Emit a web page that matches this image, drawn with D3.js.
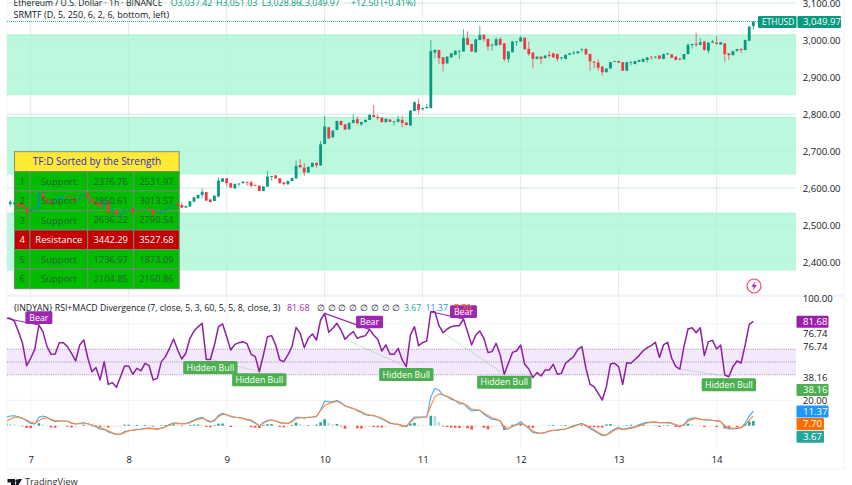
<!DOCTYPE html>
<html><head><meta charset="utf-8">
<script src="https://cdn.jsdelivr.net/npm/d3@7/dist/d3.min.js"></script>
<style>html,body{margin:0;padding:0;background:#fff;overflow:hidden}svg{display:block}text{font-family:"Open Sans",sans-serif}</style>
</head><body><svg id="c" width="852" height="485"></svg>
<script>
const opens=[2556,2556,2561,2556,2548,2534,2539,2546,2584,2572,2566,2563,2568,2569,2578,2575,2572,2568,2577,2586,2572,2561,2563,2550,2566,2536,2541,2527,2534,2539,2547,2539,2541,2541,2545,2542,2532,2530,2538,2543,2550,2557,2554,2547,2550,2563,2572,
2581,2589,2569,2565,2577,2617,2626,2613,2599,2610,2613,2616,2615,2608,2606,2592,2604,2630,2634,2626,2615,2610,2619,2626,2662,2655,2642,2657,2668,2661,2719,2764,2737,2757,2781,2772,2759,2776,2786,2772,2778,2784,2797,2792,2790,2778,2785,2779,2779,2784,2777,2769,2808,2827,2813,2816,
2816,2966,2973,2953,2937,2953,2960,2969,2969,3005,2989,2967,3000,3014,3003,2985,2985,3003,2991,2948,2967,2994,2996,3006,2976,2966,2949,2955,2951,2960,2964,2962,2952,2949,2960,2964,2964,2974,2976,2962,2942,2939,2928,2913,2923,2941,2943,2940,2917,2939,2935,2941,2941,2946,2955,2954,2958,2949,2961,2961,2955,2950,2948,2962,2986,2990,2987,2996,2971,2993,2993,2988,2991,2964,2959,2970,2976,2973,2998,3037.42];
const closes=[2563,2561,2550,2548,2533,2541,2548,2589,2572,2559,2559,2572,2578,2577,2575,2572,2565,2578,2584,2572,2559,2554,2548,2566,2533,2541,2527,2536,2542,2541,2533,2541,2539,2542,2541,2527,2536,2539,2545,2551,2556,2552,2547,2551,2564,2575,2581,
2590,2566,2562,2579,2620,2626,2613,2601,2611,2612,2617,2614,2606,2607,2592,2604,2631,2632,2626,2613,2611,2619,2627,2660,2656,2642,2657,2668,2661,2718,2766,2734,2755,2781,2770,2758,2776,2784,2775,2778,2784,2798,2792,2789,2778,2787,2779,2780,2786,2776,2770,2809,2832,2811,2816,2819,
2970,2973,2951,2935,2955,2964,2971,2971,3005,2987,2969,3002,3014,3002,2982,2987,3002,2987,2948,2969,2996,2996,3007,2975,2962,2949,2955,2949,2958,2957,2953,2949,2953,2960,2964,2966,2969,2976,2961,2942,2939,2925,2913,2923,2940,2943,2939,2917,2940,2941,2943,2946,2949,2953,2953,2955,2949,2962,2964,2952,2946,2948,2962,2987,2989,2987,2994,2973,2993,2996,2989,2994,2962,2959,2970,2975,2973,3000,3036,3049.97];
const highs=[2568,2566,2562,2563,2549,2542,2549,2592,2593,2573,2567,2575,2581,2579,2579,2576,2573,2580,2586,2587,2573,2562,2565,2568,2567,2550,2542,2538,2544,2542,2548,2542,2542,2544,2551,2543,2537,2540,2546,2552,2557,2561,2561,2552,2565,2576,2583,
2599,2590,2570,2580,2629,2627,2627,2614,2612,2613,2618,2617,2620,2609,2607,2605,2646,2633,2635,2627,2616,2620,2628,2674,2678,2667,2658,2669,2669,2727,2795,2765,2756,2782,2782,2773,2777,2800,2793,2779,2785,2799,2824,2799,2791,2788,2786,2781,2796,2796,2778,2810,2834,2842,2817,2827,
3000,2975,2974,2954,2956,2965,2972,2972,3029,3024,2990,3003,3038,3015,3004,2991,3007,3007,2992,2970,2997,2997,3011,3007,2996,2967,2956,2956,2959,2970,2965,2963,2954,2961,2965,2971,2970,2977,2977,2963,2943,2948,2929,2924,2941,2944,2944,2941,2941,2942,2944,2947,2950,2954,2956,2956,2959,2963,2965,2962,2956,2951,2963,2991,2990,3020,3005,2997,2994,3000,3011,2995,2992,2965,2971,2976,2977,3001,3038,3051.03];
const lows=[2550,2550,2545,2545,2527,2533,2538,2545,2571,2558,2556,2561,2566,2567,2573,2571,2563,2566,2575,2571,2557,2552,2546,2549,2531,2523,2523,2523,2530,2532,2532,2537,2533,2540,2540,2526,2531,2529,2537,2542,2549,2551,2546,2546,2549,2562,2571,
2572,2565,2561,2564,2575,2616,2604,2600,2598,2604,2612,2606,2602,2605,2591,2591,2603,2620,2625,2612,2606,2609,2618,2625,2655,2633,2641,2656,2655,2660,2718,2733,2736,2756,2769,2757,2758,2775,2772,2768,2777,2783,2791,2784,2777,2777,2778,2768,2778,2764,2769,2768,2807,2799,2809,2815,
2815,2951,2935,2915,2936,2952,2959,2949,2968,2986,2968,2966,2999,2996,2971,2971,2984,2986,2942,2939,2966,2984,2995,2974,2957,2923,2948,2935,2950,2952,2952,2942,2946,2948,2959,2960,2963,2967,2960,2917,2924,2917,2904,2912,2922,2940,2938,2916,2916,2931,2934,2940,2940,2939,2946,2950,2948,2948,2960,2951,2945,2944,2947,2961,2977,2982,2986,2972,2964,2992,2988,2987,2941,2946,2958,2969,2964,2972,2997,3028.86];
const rsi=[84.1,84.1,82,73.7,64.6,47.1,52.9,59.9,78.9,73.7,62,56,56.2,65.1,65.1,62,56.8,50.8,63.3,67.2,52.9,42.4,45.6,36,50.3,32.5,33.9,30.2,38.5,46.9,46.9,40.4,45,43,49,47.1,36,37.2,50.3,54.2,60.7,68,59.4,52.3,56.8,68.5,74.2,77.6,80.2,52,52,63.3,77.6,79.7,69.8,59.4,63.8,65.1,65.9,64.1,56,54.2,42.4,55.5,69.8,70.6,63.3,51.6,50.3,55.5,62,77.1,72.4,61.2,68.5,71.9,67.2,82.8,88,73.2,76.3,80.2,75,67.7,71.1,73.7,68.5,69.8,70.6,75.5,71.1,67.7,58.6,63.3,56,56,60.7,51.6,46.4,71.1,77.6,62.8,65.1,66.4,89.3,
89.3,78.4,72.9,75.8,77.6,78.4,78.4,83.6,73.7,63.3,71.1,74.2,68.5,57.5,58.1,64.6,55.5,40.4,49,57.5,58.6,63.3,48.2,44.5,37.8,41.7,39.1,43.7,43.7,48.2,40.4,41.1,49,51.6,54.2,59.9,62,45,32.5,30.7,25.5,20.3,30.7,48.4,49,46.4,32.5,49.5,49,52,55,58.6,61.2,62.8,65.4,53.6,63.3,65.4,52.9,46.4,44.5,62,75.8,76.8,72.9,76.8,55,65.9,66.9,60.2,63.3,39.8,38.5,46.4,50.8,49.2,63.3,79.4,81.68];
const macd=[6.5,7.5,7.7,7,5.7,3.6,1.8,1.3,6.5,7.5,6.5,4.4,3.1,3.6,3.6,3.4,2.3,1.3,1.8,2.3,1.5,.5,-1,-2.8,-2.8,-4.9,-5.9,-7,-6.5,-4.6,-3.9,-3.4,-2.8,-2.6,-2.1,-1.8,-2.3,-2.8,-1.8,-.8,1,2.3,1.8,1.5,1.5,2.8,4.4,5.7,6.5,4.1,2.8,4.4,8,9.5,8.5,7,6.5,6.2,5.7,4.4,
3.6,1.8,-.3,2.6,4.1,4.4,3.6,2.3,1.8,1.8,3.6,6.5,6.5,5.9,6.5,6.7,7,12.1,19.1,18.6,18.6,19.6,18.1,15.5,14.4,13.4,11.6,10.3,8.5,8,7.7,6.7,5.2,3.6,1.8,1.3,1,0,-.8,3.6,6.7,6.7,6.7,6.7,22.4,28.9,27.6,23.7,22.4,20.6,19.4,16.8,17.3,13.9,11.4,11.9,12.1,8.8,7,4.9,4.6,3.6,
-2.8,-2.6,0,1,3.1,.5,-2.1,-5.2,-5.9,-5.9,-5.4,-4.1,-3.6,-3.4,-2.8,-2.6,-1.3,0,1,1.8,0,-2.1,-3.9,-5.9,-7.7,-7.2,-4.6,-2.6,-1.5,-2.8,-2.1,-1.5,-.8,.5,1.8,2.6,2.8,3.1,2.3,2.3,2.6,1.8,.5,-.8,1,4.9,5.9,5.9,4.9,4.4,4.4,4.1,3.6,3.1,-1,-2.6,-2.6,-2.1,-1.5,1.8,7.7,11.37];
const signal=[3.1,5.2,6.5,6.5,5.7,4.4,2.6,1.8,3.9,5.7,6.2,4.9,3.9,3.6,3.6,3.4,1.8,1.5,1.5,1.5,1.5,.5,-.5,-1.8,-2.6,-3.9,-5.4,-6.5,-6.5,-5.4,-3.9,-3.6,-3.1,-2.8,-2.3,-2.1,-2.3,-2.6,-2.1,-1,.5,1.5,1.8,1.5,1.5,2.3,3.9,4.9,5.7,4.4,3.4,3.6,7,8.8,8.5,7.5,6.7,6.2,5.7,4.9,
4.4,2.6,0,1.8,3.6,4.4,3.6,2.6,1.8,1.8,3.1,5.2,6.2,6.2,6.5,6.7,7.5,11.6,15.5,17.3,18.1,18.9,17.3,15.2,14.2,13.4,12.1,10.8,9,8.3,8,7,5.7,4.1,2.3,1.5,1,.3,-.3,2.6,5.7,6.2,6.5,6.7,15.5,22.4,24.5,24,22.9,21.4,19.6,18.4,17,15.5,12.9,12.4,11.9,9.8,8,6.2,5.2,3.9,
-.8,-2.1,-.8,.5,1.5,.5,-1.5,-4.1,-5.4,-5.9,-5.2,-4.1,-3.6,-3.4,-3.1,-2.6,-1.5,-.8,.5,1.3,.5,-1.3,-3.1,-5.2,-6.9,-7.2,-5.7,-3.6,-2.1,-3.1,-2.6,-2.1,-1.3,-.3,1,2.1,2.6,2.6,2.3,2.3,2.3,1.8,1,-.3,.5,3.6,4.9,5.7,5.2,4.6,4.6,4.1,3.9,3.4,0,-1.5,-2.1,-1.8,-1.5,.5,4.4,7.7];
const hist=[1.8,1.2,.9,.6,-.5,-1.8,-1.9,-.8,1.9,1,.5,-1.4,-1.5,-.6,-.4,-.8,-1.4,-1.3,-.4,.6,.4,-.5,-.7,-1.2,-.7,-1.4,-.9,-.7,-.5,.8,.8,.4,.6,.3,.6,.4,-.7,-.4,.4,.6,.8,1,.6,-.5,-.4,.6,.8,.9,.5,-1,-1.2,.5,1.6,1.7,.3,-1,-.6,-.5,-.4,-.4,
-1.2,-1.6,-1.8,.7,1.2,1.3,.3,-1,-1.4,-.5,.6,2.4,1.2,.5,.5,.4,.8,2.6,5,2,1,1.3,-.5,-2.4,-.6,-.5,-2,-2.2,-1,-.7,-1,-1.2,-1.4,-1,-.8,-.7,-.6,-.8,-.9,1.6,2.2,.8,.4,.3,7.7,7.4,3,-.6,-1,-1.5,-1.6,-1.8,-.5,-2,-3,-.8,-.6,-1.6,-2.8,-1,-.7,-.6,
-3.4,-.8,.8,.6,1.6,.4,-1.2,-1.6,-.5,-.3,-.3,.3,.6,.3,.3,.5,.4,.6,.5,.5,-.5,-1,-1.2,-1.4,-1.5,1,1.2,.7,.6,.4,.5,.7,.4,.8,1,.7,.3,.3,-1,.3,.5,.4,-1,-1.2,.5,1.6,1,.5,-.3,-1,-.3,-.3,-1,-.3,-2.2,-2.4,-.5,-1.2,-.6,1.4,3.3,3.67];
const dayLabels=[7,8,9,10,11,12,13,14];
const priceTicks=[3100,3000,2900,2800,2700,2600,2500,2400];
const rsiTicks=[100,20];
const rowNo=[1,2,3,4,5,6];
const rowType=["Support","Support","Support","Resistance","Support","Support"];
const rowLow=[2376.76,2850.61,2636.22,3442.29,1736.97,2104.85];
const rowHigh=[2531.97,3013.57,2790.54,3527.68,1873.09,2160.86];
const bearLines=[[-6,2],[72,83],[98,106]];
const bullLines=[[44,56],[77,92],[101,116],[159,171]];
const bearMarks=[2,83,106];
const bullMarks=[44,56,92,116,171];

const FIRST_CANDLE=-5, FIRST_IND=-6, L=7, R=796;
const svg=d3.select("#c");
const x=d3.scaleLinear().domain([0,168]).range([30.7,716.6]);
const y=d3.scaleLinear().domain([2400,3100]).range([262,3]);
const yR=d3.scaleLinear().domain([20,100]).range([400.4,298]);
const yM=d3.scaleLinear().domain([0,10]).range([425.7,412.8]);
const GREEN="#089981",RED="#f23645",PUR="#9c27b0",GRID="#f0f3fa",INK="#131722";
const defs=svg.append("defs");
defs.append("clipPath").attr("id","main").append("rect").attr("x",L).attr("y",0).attr("width",R-L).attr("height",295);
defs.append("clipPath").attr("id","plot").append("rect").attr("x",L).attr("y",296).attr("width",R-L).attr("height",160);

// frame and grid
const grid=svg.append("g").attr("stroke",GRID).attr("fill","none");
dayLabels.forEach(d=>{const px=x((d-7)*24);grid.append("line").attr("x1",px).attr("x2",px).attr("y1",0).attr("y2",449);});
priceTicks.forEach(p=>grid.append("line").attr("x1",L).attr("x2",R).attr("y1",y(p)).attr("y2",y(p)));
[80,20].forEach(v=>grid.append("line").attr("x1",L).attr("x2",R).attr("y1",yR(v)).attr("y2",yR(v)));
grid.append("line").attr("x1",L).attr("x2",L).attr("y1",0).attr("y2",469);
grid.append("line").attr("x1",844).attr("x2",844).attr("y1",0).attr("y2",469);
grid.append("line").attr("x1",L).attr("x2",844).attr("y1",469).attr("y2",469);
svg.append("rect").attr("x",L).attr("y",294.5).attr("width",837).attr("height",2.5).attr("fill",GRID);

// zones
const gMain=svg.append("g").attr("clip-path","url(#main)");
rowNo.forEach((n,k)=>{
  if(rowType[k]!=="Support")return;
  gMain.append("rect").attr("x",L).attr("width",R-L).attr("y",y(rowHigh[k])).attr("height",y(rowLow[k])-y(rowHigh[k])).attr("fill","#bcf8de");
  gMain.append("line").attr("x1",L).attr("x2",R).attr("y1",y(rowHigh[k])).attr("y2",y(rowHigh[k])).attr("stroke","#a8f2d0");
});
priceTicks.forEach(p=>gMain.append("line").attr("x1",L).attr("x2",R).attr("y1",y(p)).attr("y2",y(p)).attr("stroke","#aeeccf").attr("stroke-opacity",.5));
dayLabels.forEach(d=>{const px=x((d-7)*24);gMain.append("line").attr("x1",px).attr("x2",px).attr("y1",0).attr("y2",295).attr("stroke","#aeeccf").attr("stroke-opacity",.35);});

// table background
const colX=[14.5,30,87.7,133.7,179.2], rowY=[151.7,171.7,190.9,210.4,230,249.6,269,288.7];
const tbl=svg.append("g");
tbl.append("rect").attr("x",colX[0]).attr("y",rowY[0]).attr("width",colX[4]-colX[0]).attr("height",rowY[1]-rowY[0]).attr("fill","#ffe933").attr("stroke","#8a8f70");
rowNo.forEach((n,k)=>{
  for(let c=0;c<4;c++){
    tbl.append("rect").attr("x",colX[c]).attr("y",rowY[k+1]).attr("width",colX[c+1]-colX[c]).attr("height",rowY[k+2]-rowY[k+1])
      .attr("fill",rowType[k]==="Support"?"#00bd00":"#c40000").attr("stroke","#6f8a6f").attr("stroke-width",1);
  }
});

// dotted last price line
svg.append("line").attr("x1",L).attr("x2",758).attr("y1",y(closes[closes.length-1])).attr("y2",y(closes[closes.length-1])).attr("stroke",GREEN).attr("stroke-opacity",.75).attr("stroke-dasharray","1 1");

// candles
const gC=svg.append("g").attr("clip-path","url(#main)");
const cd=opens.map((o,k)=>({i:k+FIRST_CANDLE,o,c:closes[k],h:highs[k],l:lows[k]}));
const col=d=>d.c>=d.o?GREEN:RED;
const alpha=d=>x(d.i)<180?.9:1;
gC.selectAll("line").data(cd).join("line").attr("x1",d=>x(d.i)).attr("x2",d=>x(d.i)).attr("y1",d=>y(d.h)).attr("y2",d=>y(d.l)).attr("stroke",col).attr("stroke-width",.9).attr("stroke-opacity",d=>alpha(d)*.8);
gC.selectAll("rect").data(cd).join("rect").attr("x",d=>x(d.i)-1.4).attr("width",2.8).attr("y",d=>y(Math.max(d.o,d.c))).attr("height",d=>Math.max(.8,Math.abs(y(d.o)-y(d.c)))).attr("fill",col).attr("fill-opacity",alpha);

// table text above candles
function T(g,px,py,s,o={}){return g.append("text").attr("x",px).attr("y",py).attr("dy","0.35em").attr("text-anchor",o.a||"start").attr("fill",o.f||INK).attr("font-size",o.s||8.8).attr("font-weight",o.w||400).text(s);}
const tt=svg.append("g");
T(tt,97,161.7,"TF:D Sorted by the Strength",{a:"middle",f:"#2a2ad0",s:10});
const cc=d3.format(".2f");
rowNo.forEach((n,k)=>{
  const f=rowType[k]==="Support"?"#2a5f38":"#fff", cy=(rowY[k+1]+rowY[k+2])/2;
  T(tt,22.2,cy,n,{a:"middle",f,s:9.6});
  T(tt,58.8,cy,rowType[k],{a:"middle",f,s:9.5});
  T(tt,110.7,cy,cc(rowLow[k]),{a:"middle",f,s:9.3});
  T(tt,156.4,cy,cc(rowHigh[k]),{a:"middle",f,s:9.3});
});

// RSI pane
const gR=svg.append("g").attr("clip-path","url(#plot)");
gR.append("rect").attr("x",L).attr("width",R-L).attr("y",yR(60)).attr("height",yR(40)-yR(60)).attr("fill","#f3e8fc");
[60,50,40].forEach(v=>gR.append("line").attr("x1",L).attr("x2",R).attr("y1",yR(v)).attr("y2",yR(v)).attr("stroke","#8d7f9a").attr("stroke-width",.8).attr("stroke-dasharray","1 1.2"));
const val=i=>rsi[i-FIRST_IND];
bullLines.forEach(([a,b])=>gR.append("line").attr("x1",x(a)).attr("x2",x(b)).attr("y1",yR(val(a))).attr("y2",yR(val(b))).attr("stroke","#4caf50").attr("stroke-opacity",.2).attr("stroke-width",1.2));
bearLines.forEach(([a,b])=>gR.append("line").attr("x1",x(a)).attr("x2",x(b)).attr("y1",yR(val(a))).attr("y2",yR(val(b))).attr("stroke",PUR).attr("stroke-width",1.1));
const line=(sc)=>d3.line().x((d,k)=>x(k+FIRST_IND)).y(d=>sc(d));
gR.append("path").attr("d",line(yR)(rsi)).attr("fill","none").attr("stroke","#8e1fa3").attr("stroke-width",1.5).attr("stroke-linejoin","round");

// MACD pane
const hb=hist.map((v,k)=>({i:k+FIRST_IND,v,p:k?hist[k-1]:v}));
gR.append("g").selectAll("rect").data(hb).join("rect")
  .attr("x",d=>x(d.i)-1.3).attr("width",2.6)
  .attr("y",d=>Math.min(yM(d.v),yM(0))).attr("height",d=>Math.abs(yM(d.v)-yM(0)))
  .attr("fill",d=>d.v>=0?(d.v>=d.p?"#26a69a":"#b2dfdb"):(d.v<d.p?"#ff5252":"#ffcdd2"));
gR.append("path").attr("d",line(yM)(macd)).attr("fill","none").attr("stroke","#42a5f5").attr("stroke-width",1.1);
gR.append("path").attr("d",line(yM)(signal)).attr("fill","none").attr("stroke","#ff8a3d").attr("stroke-width",1.1);

// divergence labels
const lab=svg.append("g");
bullMarks.forEach(i=>{const py=yR(val(i))+1.5;
  lab.append("rect").attr("x",x(i)-27.2).attr("y",py).attr("width",54.4).attr("height",13).attr("rx",1.5).attr("fill","#4caf50");
  T(lab,x(i),py+6.6,"Hidden Bull",{a:"middle",f:"#fff",s:8.8});});
bearMarks.forEach(i=>{const py=yR(val(i))-13.7;
  lab.append("rect").attr("x",x(i)-13.5).attr("y",py).attr("width",27).attr("height",12.7).attr("rx",1.5).attr("fill",PUR);
  T(lab,x(i),py+6.4,"Bear",{a:"middle",f:"#fff",s:8.8});});

// legends
T(svg,13.5,2.5,"Ethereum / U.S. Dollar · 1h · BINANCE",{s:8.6});
[["O3,037.42",170.7],["H3,051.03",216],["L3,028.86",261.7],["C3,049.97",299.5],["+12.50 (+0.41%)",351]].forEach(([s,px])=>T(svg,px,2.5,s,{f:GREEN}));
T(svg,13.5,15,"SRMTF (D, 5, 250, 6, 2, 6, bottom, left)",{s:9});
T(svg,13.5,307.5,"{INDYAN} RSI+MACD Divergence (7, close, 5, 3, 60, 5, 5, 8, close, 3)",{s:8.75});
T(svg,287,307.5,"81.68",{f:PUR});
d3.range(8).forEach(k=>T(svg,316.7+k*10.8,307.5,"∅"));
T(svg,404,307.5,"3.67",{f:"#26a69a"});
T(svg,425.5,307.5,"11.37",{f:"#2196f3"});
T(svg,454,307.5,"7.70",{f:"#ff6d00"});

// axes
const ax=(g)=>{g.select(".domain").remove();g.selectAll("text").attr("fill",INK).attr("font-size",9.6);};
svg.append("g").attr("transform",`translate(${R},0)`).call(d3.axisRight(y).tickValues(priceTicks).tickSize(0).tickPadding(6.7).tickFormat(d3.format(",.2f"))).call(ax);
svg.append("g").attr("transform",`translate(${R},0)`).call(d3.axisRight(yR).tickValues(rsiTicks).tickSize(0).tickPadding(6.7).tickFormat(d3.format(".2f"))).call(ax);
svg.append("g").attr("transform","translate(0,456)").call(d3.axisBottom(x).tickValues(dayLabels.map(d=>(d-7)*24)).tickSize(0).tickPadding(0).tickFormat((d,k)=>dayLabels[k])).call(ax);
T(svg,803,334,"76.74",{s:9.6});T(svg,803,347,"76.74",{s:9.6});T(svg,803,377.5,"38.16",{s:9.6});

// tags
function tag(x0,x1,yc,fill,s,tx=803,fs=9.6){svg.append("rect").attr("x",x0).attr("y",yc-6).attr("width",x1-x0).attr("height",12).attr("rx",1.2).attr("fill",fill);T(svg,tx,yc,s,{f:"#fff",s:fs});}
tag(758,796.5,22,GREEN,"ETHUSD",762,8.4);
tag(797.5,841,22,GREEN,"3,049.97");
tag(796.5,828.5,321.7,"#9c1fa8","81.68");
tag(796.5,828.5,390,"#4caf50","38.16");
tag(796.5,828.5,411.5,"#1e96fc","11.37");
tag(796.5,824,424,"#ff6d00","7.70");
tag(796.5,824,436.7,"#26a69a","3.67");

// event icon
const ic=svg.append("g").attr("transform","translate(754,286)");
ic.append("circle").attr("r",7).attr("fill","#fff").attr("stroke","#f2456a").attr("stroke-width",1.2);
ic.append("path").attr("d","M1.2-4.5L-2.8.8H-.3L-1.2,4.5L2.8-.9H.3Z").attr("fill","#b02bb8");

// logo
const lg=svg.append("g").attr("fill",INK);
lg.append("path").attr("d","M7.5 479H15V486H11V482.5H7.5Z");
lg.append("circle").attr("cx",17).attr("cy",481).attr("r",1.7);
lg.append("path").attr("d","M22 479L18 486H14.5L18.5 479Z");
T(svg,25,482,"TradingView",{s:9.2,f:"#333"});
</script></body></html>
